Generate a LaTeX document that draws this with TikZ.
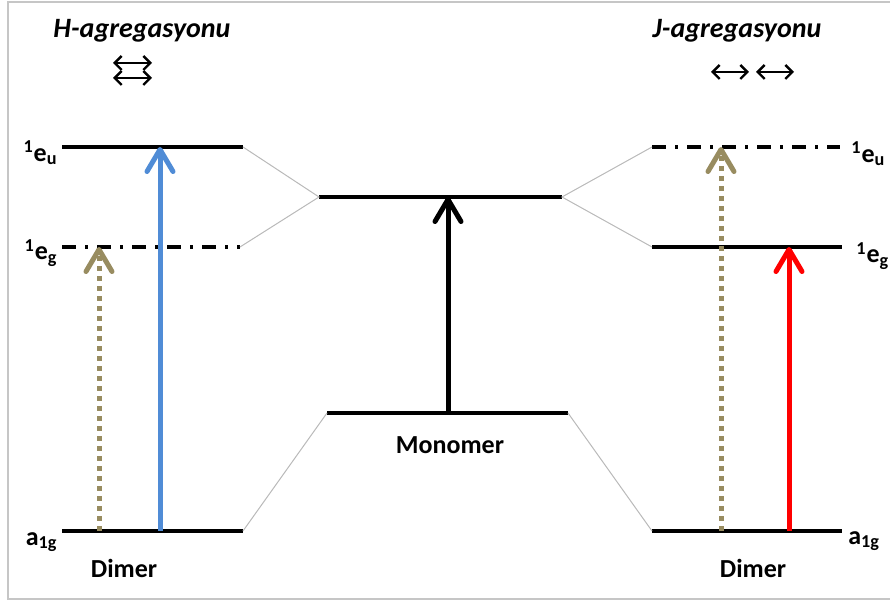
\documentclass[tikz,border=0pt]{standalone}
\usepackage{fontspec}
\setmainfont{Carlito}
\usetikzlibrary{arrows.meta}

\definecolor{hblue}{RGB}{80,140,214}
\definecolor{haki}{RGB}{152,140,96}
\definecolor{jred}{RGB}{255,0,0}

\tikzset{
	level/.style={line width=2pt},
	dashlevel/.style={line width=2pt, dash pattern=on 7pt off 4.5pt on 1.5pt off 4.5pt},
	link/.style={gray!55, line width=0.5pt},
	exc/.style={line width=2.5pt, -{Straight Barb[length=11pt, width=13pt, round]}},
	dotexc/.style={exc, haki, dash pattern=on 2.5pt off 2.5pt},
	dbl/.style={line width=1.2pt, {Straight Barb[length=3.5pt, width=7pt]}-{Straight Barb[length=3.5pt, width=7pt]}},
	lbl/.style={inner sep=0pt, font=\bfseries\fontsize{13}{13}\selectfont},
	ttl/.style={inner sep=0pt, font=\bfseries\itshape\fontsize{14}{14}\selectfont},
}

\begin{document}
\begin{tikzpicture}[x=0.5pt, y=-0.5pt]
		\useasboundingbox (0, 0) rectangle (890, 603);
		\draw[gray!45, line width=1pt] (890, 2) -- (8, 2) -- (8, 599) -- (890, 599);

		% H seviyeleri
		\coordinate (Hu1) at (62, 147);
		\coordinate (Hu2) at (243, 147);
		\coordinate (Hg1) at (62, 247);
		\coordinate (Hg2) at (240, 247);
		\coordinate (Ha1) at (62, 531);
		\coordinate (Ha2) at (243, 531);

		% monomer
		\coordinate (Mu1) at (319, 197);
		\coordinate (Mu2) at (562, 197);
		\coordinate (Ma1) at (327, 413);
		\coordinate (Ma2) at (568, 413);

		% J seviyeleri
		\coordinate (Ju1) at (652, 147);
		\coordinate (Ju2) at (840, 147);
		\coordinate (Jg1) at (652, 247);
		\coordinate (Jg2) at (842, 247);
		\coordinate (Ja1) at (652, 531);
		\coordinate (Ja2) at (842, 531);

		\draw[level] (Hu1) -- (Hu2);
		\draw[dashlevel] (Hg1) -- (Hg2);
		\draw[level] (Ha1) -- (Ha2);
		\draw[level] (Mu1) -- (Mu2);
		\draw[level] (Ma1) -- (Ma2);
		\draw[dashlevel] (Ju1) -- (Ju2);
		\draw[level] (Jg1) -- (Jg2);
		\draw[level] (Ja1) -- (Ja2);

		% baglantilar
		\draw[link] (Hu2) -- (Mu1) -- (Hg2);
		\draw[link] (Ha2) -- (Ma1);
		\draw[link] (Ju1) -- (Mu2) -- (Jg1);
		\draw[link] (Ja1) -- (Ma2);

		% gecisler
		\draw[dotexc] (99, 531) coordinate (hd0) -- (hd0 |- Hg1);
		\draw[exc, hblue] (160, 531) coordinate (hb0) -- (hb0 |- Hu1);
		\draw[exc] (448, 413) coordinate (m0) -- (m0 |- Mu1);
		\draw[dotexc] (721, 531) coordinate (jd0) -- (jd0 |- Ju1);
		\draw[exc, jred] (789, 531) coordinate (jr0) -- (jr0 |- Jg1);

		% etiketler
		\node[lbl, anchor=east] (lHu) at (58, 153) {\textsuperscript{1}e\textsubscript{u}};
		\node[lbl, anchor=east] (lHg) at (58, 253) {\textsuperscript{1}e\textsubscript{g}};
		\node[lbl, anchor=east] (lHa) at (58, 542) {a\textsubscript{1g}};
		\node[lbl, anchor=west] (lJu) at (851, 154) {\textsuperscript{1}e\textsubscript{u}};
		\node[lbl, anchor=west] (lJg) at (856, 256) {\textsuperscript{1}e\textsubscript{g}};
		\node[lbl, anchor=west] (lJa) at (848, 541) {a\textsubscript{1g}};
		\node[lbl] (dH) at (124, 568) {Dimer};
		\node[lbl] (dJ) at (753, 568) {Dimer};
		\node[lbl] (mon) at (450, 445) {Monomer};

		\node[ttl] (tH) at (142, 31) {H-agregasyonu};
		\node[ttl] (tJ) at (737, 31) {J-agregasyonu};
		\draw[dbl] (113, 63) coordinate (a1) -- (152, 63);
		\draw[dbl] (113, 78) coordinate (a2) -- (152, 78);
		\draw[dbl] (711, 72) coordinate (b1) -- (749, 72);
		\draw[dbl] (756, 72) coordinate (b2) -- (794, 72);
	\end{tikzpicture}
\end{document}
